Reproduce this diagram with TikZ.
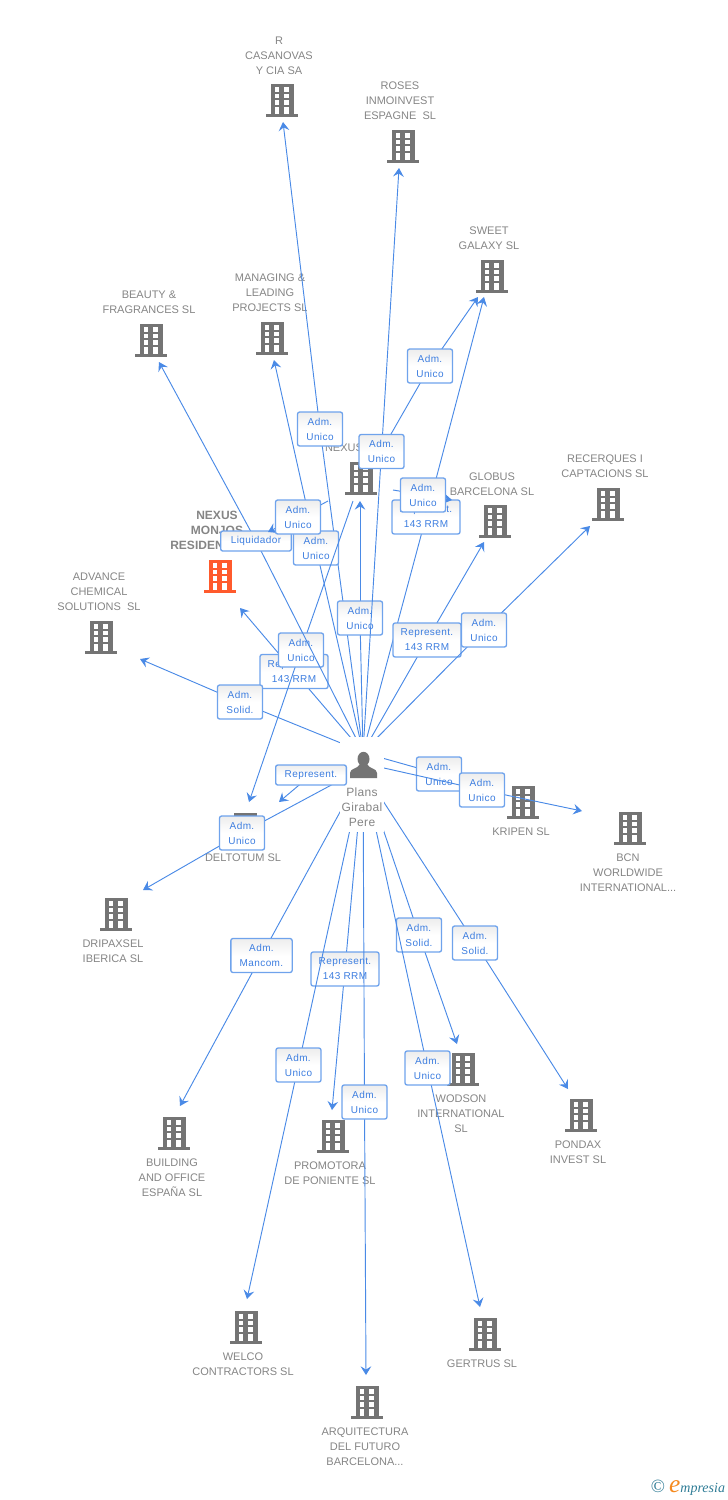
\documentclass[tikz,border=0pt]{standalone}
\usepackage{fontspec}
\setmainfont{Liberation Sans}
\newfontfamily\boxfont[LetterSpace=4]{Liberation Sans}
\newfontfamily\perfont[LetterSpace=3]{Liberation Sans}
\newfontfamily\logofont{Liberation Serif}
\usetikzlibrary{arrows.meta,positioning}
\definecolor{linkblue}{HTML}{4A8AE6}
\definecolor{boxblue}{HTML}{6FA3EC}
\definecolor{labelblue}{HTML}{3D7EE0}
\definecolor{firmgray}{HTML}{747474}
\definecolor{textgray}{HTML}{858585}
\definecolor{mainorange}{HTML}{FF5A2C}
\definecolor{logoteal}{HTML}{2F7C96}
\definecolor{logoorange}{HTML}{F58A1F}

\tikzset{
    link/.style={draw=linkblue, line width=0.7pt},
    relbox/.style={draw=boxblue, line width=1pt, rounded corners=1.6pt, top color=white!93!black, bottom color=white, middle color=white,
        text=labelblue, align=center, inner sep=0pt, minimum width=33.75pt, minimum height=25.5pt,
        font=\boxfont\fontsize{7.5}{11.25}\selectfont},
    widebox/.style={relbox, minimum width=51pt},
    mancombox/.style={relbox, minimum width=46pt},
    flatbox/.style={relbox, minimum width=53pt, minimum height=15pt},
    firmtext/.style={text=textgray, align=center, inner sep=0pt, yshift=-0.6pt, font=\fontsize{8.25}{11.25}\selectfont},
    pics/tower/.style={code={
        \fill[#1] (-16,14.2) rectangle (16,16.5);
        \fill[#1] (-11.5,-16.5) rectangle (11.5,15);
        \foreach \wy in {-12.7,-6.3,0.2} {
            \fill[white] (-7.3,\wy) rectangle (-2.7,\wy+4.6);
            \fill[white] (2,\wy) rectangle (6.6,\wy+4.6);
        }
        \fill[white] (-7.3,6.7) rectangle (-2.7,14.2);
        \fill[white] (2,6.7) rectangle (6.6,14.2);
    }}
}

% firm: name, icon, text position, text
\newcommand{\firm}[4]{
    \pic at #2 {tower=firmgray};
    \node[firmtext] (#1) at #3 {#4};
}
% relation: start, name, box position, arrow end, box style, text
\newcommand{\relation}[6][hub]{
    \coordinate (#2c) at #3;
    \coordinate (#2t) at #4;
    \draw[link] (#1) -- (#2c);
    \draw[link, -{Stealth[length=6.5pt,width=8pt,inset=2.4pt]}] (#2c) -- (#2t);
    \node[#5] (#2) at (#2c) {#6};
}

\begin{document}
\begin{tikzpicture}[x=0.75pt, y=-0.75pt]
    \useasboundingbox (0,0) rectangle (728,1500);
    \coordinate (hub) at (363,752);
    \coordinate (hublow) at (363,770);
    \coordinate (hubside) at (363,768);
    \coordinate (kra) at (384,758.5);
    \coordinate (bca) at (384,768);
    \coordinate (nxa) at (393,490);
    \coordinate (nxb) at (328,501);
    \coordinate (nxc) at (353,501);
    \coordinate (swbend) at (383,448);

    % Firms above
    \firm{casanovas}{(282,100)}{(279,55)}{R\\CASANOVAS\\Y CIA SA}
    \firm{roses}{(403,146)}{(400,100)}{ROSES\\INMOINVEST\\ESPAGNE\ \ SL}
    \firm{sweet}{(492,276)}{(489,237.5)}{SWEET\\GALAXY SL}
    \firm{managing}{(272,338)}{(270,292)}{MANAGING \&\\LEADING\\PROJECTS SL}
    \firm{beauty}{(151,340)}{(149,301.5)}{BEAUTY \&\\FRAGRANCES SL}
    \firm{nexus}{(361,478)}{(344,447)}{NEXUS}
    \firm{globus}{(495,521)}{(492,483.5)}{GLOBUS\\BARCELONA SL}
    \firm{recerques}{(608,504)}{(605,465.5)}{RECERQUES I\\CAPTACIONS SL}
    \firm{advance}{(101,637)}{(99,591)}{ADVANCE\\CHEMICAL\\SOLUTIONS\ \ SL}

    % Main firm
    \pic at (220,576) {tower=mainorange};
    \node[text=textgray, align=center, inner sep=0pt, font=\bfseries\fontsize{9}{11.25}\selectfont] (monjos) at (217,530) {NEXUS\\MONJOS\\RESIDEN\hspace*{30pt}};

    % Firms below
    \firm{kripen}{(523,802)}{(521,831)}{KRIPEN SL}
    \firm{bcn}{(630,828)}{(628,872)}{BCN\\WORLDWIDE\\INTERNATIONAL...}
    \firm{deltotum}{(245,829)}{(243,857)}{DELTOTUM SL}
    \firm{dripaxsel}{(116,914)}{(113,950.5)}{DRIPAXSEL\\IBERICA SL}
    \firm{building}{(174,1133)}{(172,1177)}{BUILDING\\AND OFFICE\\ESPAÑA SL}
    \firm{promotora}{(333,1136)}{(330,1172.5)}{PROMOTORA\\DE PONIENTE SL}
    \firm{wodson}{(463,1069)}{(461,1113)}{WODSON\\INTERNATIONAL\\SL}
    \firm{pondax}{(581,1115)}{(578,1151.5)}{PONDAX\\INVEST SL}
    \firm{welco}{(246,1327)}{(243,1363.5)}{WELCO\\CONTRACTORS SL}
    \firm{gertrus}{(485,1334)}{(482,1363)}{GERTRUS SL}
    \firm{arquitectura}{(367,1402)}{(365,1446)}{ARQUITECTURA\\DEL FUTURO\\BARCELONA...}

    % Relations above
    \relation{rcas}{(320,429)}{(283,122)}{relbox}{Adm.\\Unico}
    \relation[swbend]{rswa}{(430,366)}{(478,297)}{relbox}{Adm.\\Unico}
    \relation{rswb}{(426,517)}{(484,297)}{widebox}{Represent.\\143 RRM}
    \relation{rglo}{(427,640)}{(484,542)}{widebox}{Represent.\\143 RRM}
    \relation{rrec}{(484,630)}{(590,526)}{relbox}{Adm.\\Unico}
    \relation{rman}{(316,548)}{(274,360)}{relbox}{Adm.\\Unico}
    \relation{rnex}{(360,618)}{(360,501)}{relbox}{Adm.\\Unico}
    \relation{rros}{(381.5,451.5)}{(399,168)}{relbox}{Adm.\\Unico}
    \relation{rmon}{(294,671.5)}{(240,608)}{widebox}{Represent.\\143 RRM}
    \relation{radv}{(240,702)}{(140,659)}{relbox}{Adm.\\Solid.}
    \relation[nxc]{rdel}{(301,650)}{(249,802)}{relbox}{Adm.\\Unico}
    \relation{rbea}{(256,541)}{(159,362)}{flatbox}{Liquidador}
    \relation[nxb]{rnmo}{(298,517)}{(268,532)}{relbox}{Adm.\\Unico}
    \relation[nxa]{rngl}{(423,495)}{(452,500)}{relbox}{Adm.\\Unico}

    % Relations below
    \relation[kra]{rkri}{(439,774)}{(505,785)}{relbox}{Adm.\\Unico}
    \relation[bca]{rbcn}{(482,790)}{(582,811)}{relbox}{Adm.\\Unico}
    \relation[hubside]{rdri}{(242,833)}{(143,890)}{relbox}{Adm.\\Unico}
    \relation[hublow]{rbui}{(261.5,955.5)}{(180,1106)}{mancombox}{Adm.\\Mancom.}
    \relation[hublow]{rpro}{(345,969)}{(332,1110)}{widebox}{Represent.\\143 RRM}
    \relation[hublow]{rwod}{(419,935)}{(457,1044)}{relbox}{Adm.\\Solid.}
    \relation[hublow]{rpon}{(475,943)}{(568,1089)}{relbox}{Adm.\\Solid.}
    \relation[hublow]{rwel}{(298.5,1065)}{(247,1299)}{relbox}{Adm.\\Unico}
    \relation[hublow]{rarq}{(364.5,1102)}{(366,1375)}{relbox}{Adm.\\Unico}
    \relation[hublow]{rger}{(427.5,1068)}{(480,1307)}{relbox}{Adm.\\Unico}

    % Person
    \node[fill=white, inner sep=0pt, minimum width=33pt, minimum height=71.25pt] (per) at (362,784) {};
    \fill[firmgray] (363.5,759) ellipse (6 and 7.2);
    \fill[firmgray] (350,778) -- (350,773) .. controls (350,768) and (358,769) .. (360,764) -- (367,764) .. controls (369,769) and (377,768) .. (377,773) -- (377,778) -- cycle;
    \node[text=textgray, align=center, inner sep=0pt, font=\perfont\fontsize{9}{11.25}\selectfont] (pername) at (362,807.5) {Plans\\Girabal\\Pere};
    \relation[per]{rrep}{(311,775)}{(279,802)}{flatbox}{Represent.}

    % Logo
    \node[inner sep=0pt, font=\logofont\itshape\fontsize{10.5}{12}\selectfont, text=logoteal] (logo) at (688,1488) {{\fontsize{14}{12}\selectfont\upshape ©}\hspace{3pt}{\fontsize{19}{12}\selectfont\color{logoorange}e}mpresia};
\end{tikzpicture}
\end{document}
